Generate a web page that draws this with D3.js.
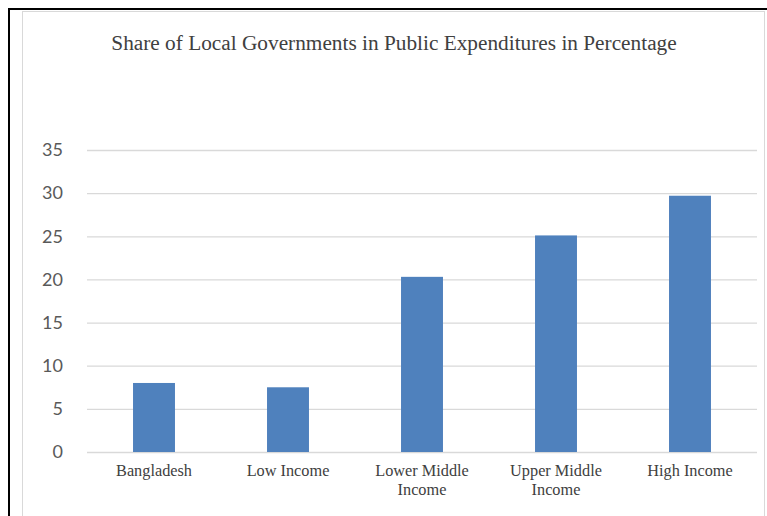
<!DOCTYPE html>
<html>
<head>
<meta charset="utf-8">
<script src="https://cdn.jsdelivr.net/npm/d3@7"></script>
<style>
  html, body { margin: 0; padding: 0; background: #fff; }
  svg { display: block; }
</style>
</head>
<body>
<div id="chart"></div>
<script>
// Data
const categories = ["Bangladesh", "Low Income", "Lower Middle Income", "Upper Middle Income", "High Income"];
const labelLines = [["Bangladesh"], ["Low Income"], ["Lower Middle", "Income"], ["Upper Middle", "Income"], ["High Income"]];
const shares = [8.0, 7.5, 20.3, 25.1, 29.7];
const yTicks = [0, 5, 10, 15, 20, 25, 30, 35];
const title = "Share of Local Governments in Public Expenditures in Percentage";

const width = 767, height = 516;
const plot = { left: 87, right: 757, top: 150, bottom: 452 };

const svg = d3.select("#chart").append("svg")
  .attr("width", width)
  .attr("height", height);

// Outer frame: black page rule at top and left, light gray chart border
svg.append("rect")
  .attr("x", 22.5).attr("y", 11.5)
  .attr("width", 742).attr("height", 520)
  .attr("fill", "#fff")
  .attr("stroke", "#d9d9d9")
  .attr("stroke-width", 1);

svg.append("line")
  .attr("x1", 8).attr("x2", width)
  .attr("y1", 9).attr("y2", 9)
  .attr("stroke", "#000").attr("stroke-width", 2);
svg.append("line")
  .attr("x1", 9).attr("x2", 9)
  .attr("y1", 8).attr("y2", height)
  .attr("stroke", "#000").attr("stroke-width", 2);

// Title
svg.append("text")
  .attr("x", 394)
  .attr("y", 50)
  .attr("text-anchor", "middle")
  .attr("font-family", "'Liberation Serif', 'Times New Roman', serif")
  .attr("font-size", "21.3px")
  .attr("fill", "#404040")
  .text(title);

const x = d3.scaleBand()
  .domain(categories)
  .range([plot.left, plot.right])
  .paddingInner(0.687)
  .paddingOuter(0.3435);

const y = d3.scaleLinear()
  .domain([0, 35])
  .range([plot.bottom, plot.top]);

// Gridlines
const grid = svg.append("g")
  .attr("transform", `translate(${plot.left},0)`)
  .call(d3.axisLeft(y).tickValues(yTicks).tickSize(-(plot.right - plot.left)).tickFormat(""));
grid.select(".domain").remove();
grid.selectAll(".tick line")
  .attr("stroke", "#d9d9d9")
  .attr("stroke-width", 1.3);

// Y axis labels
const yAxis = svg.append("g")
  .attr("transform", `translate(${plot.left},0)`)
  .call(d3.axisLeft(y).tickValues(yTicks).tickSize(0).tickPadding(24));
yAxis.select(".domain").remove();
yAxis.selectAll(".tick text")
  .attr("font-family", "Lato, 'Open Sans', sans-serif")
  .attr("font-size", "18px")
  .attr("fill", "#595959");

// Bars
svg.append("g")
  .selectAll("rect")
  .data(shares)
  .join("rect")
  .attr("x", (d, i) => x(categories[i]))
  .attr("y", d => y(d))
  .attr("width", x.bandwidth())
  .attr("height", d => y(0) - y(d))
  .attr("fill", "#4f81bd");

// X labels (wrapped like the reference)
const xLab = svg.append("g")
  .selectAll("text")
  .data(labelLines)
  .join("text")
  .attr("x", (d, i) => x(categories[i]) + x.bandwidth() / 2)
  .attr("y", 476)
  .attr("text-anchor", "middle")
  .attr("font-family", "'Liberation Serif', 'Times New Roman', serif")
  .attr("font-size", "16.3px")
  .attr("fill", "#404040");

xLab.selectAll("tspan")
  .data(d => d)
  .join("tspan")
  .attr("x", function () { return d3.select(this.parentNode).attr("x"); })
  .attr("dy", (d, i) => i === 0 ? 0 : 19)
  .text(d => d);
</script>
</body>
</html>
